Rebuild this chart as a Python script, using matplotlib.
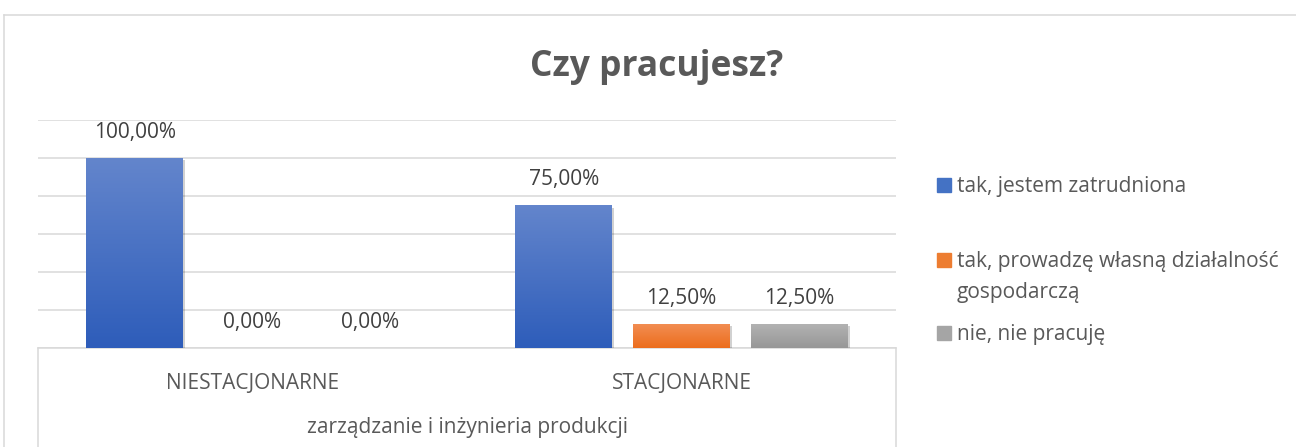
import numpy as np
import matplotlib.pyplot as plt
import matplotlib.patheffects as pe
from matplotlib.colors import LinearSegmentedColormap
from matplotlib.patches import Rectangle
from matplotlib.lines import Line2D

plt.rcParams['font.family'] = ['Open Sans', 'DejaVu Sans']

# data
categories = ['NIESTACJONARNE', 'STACJONARNE']
group_label = 'zarządzanie i inżynieria produkcji'
series_names = ['tak, jestem zatrudniona',
                'tak, prowadzę własną działalność\ngospodarczą',
                'nie, nie pracuję']
zatrudniona = [100.0, 75.0]
dzialalnosc = [0.0, 12.5]
nie_pracuje = [0.0, 12.5]

# (bottom colour, top colour) for the Excel-like gradient
grad_colors = [('#2e5dba', '#6385cc'),
               ('#ec6d1c', '#f28d52'),
               ('#979797', '#b2b2b2')]
mid_colors = ['#4472c4', '#ed7d31', '#a5a5a5']
grid_col = '#d9d9d9'
text_col = '#595959'

fig = plt.figure(figsize=(12.96, 4.47), dpi=100)
ax = fig.add_axes([38 / 1296, 99 / 447, (896 - 38) / 1296, 228 / 447])

x = np.arange(len(categories))
slot = 0.2745
width = 0.226
values = [zatrudniona, dzialalnosc, nie_pracuje]

for i, vals in enumerate(values):
    bars = ax.bar(x + (i - 1) * slot, vals, width, color=mid_colors[i], linewidth=0,
                  zorder=3, label=series_names[i])
    cmap = LinearSegmentedColormap.from_list('g%d' % i, grad_colors[i])
    for b in bars:
        h = b.get_height()
        if h <= 0:
            continue
        b.set_path_effects([pe.SimplePatchShadow(offset=(1.5, -1.5), shadow_rgbFace='#000000', alpha=0.18),
                            pe.Normal()])
        grad = np.linspace(0, 1, 100).reshape(-1, 1)
        ax.imshow(grad, cmap=cmap, origin='lower', aspect='auto', zorder=4,
                  extent=(b.get_x(), b.get_x() + b.get_width(), 0, h))
    labels = [('%.2f' % v).replace('.', ',') + '%' for v in vals]
    ax.bar_label(bars, labels=labels, padding=11, fontsize=15, color='#404040')

ax.set_xlim(-0.5, 1.5)
ax.set_ylim(0, 120)
ax.set_yticks(np.arange(0, 121, 20))
ax.yaxis.grid(True, color=grid_col, linewidth=1.1)
ax.set_axisbelow(True)
ax.tick_params(axis='y', left=False, labelleft=False)
ax.tick_params(axis='x', length=0, pad=18, labelsize=15, labelcolor=text_col)
ax.set_xticks(x)
ax.set_xticklabels(categories)
for s in ['top', 'left', 'right']:
    ax.spines[s].set_visible(False)
ax.spines['bottom'].set_color(grid_col)
ax.spines['bottom'].set_linewidth(1.1)

# category box below the axis
for xx in [0, 1]:
    ax.add_line(Line2D([xx, xx], [0, -0.5], transform=ax.transAxes, color=grid_col,
                       linewidth=1.1, clip_on=False))
ax.text(0.5, -(427 - 348) / 228, group_label, transform=ax.transAxes, ha='center',
        va='center', fontsize=15, color=text_col)

# outer chart border
fig.add_artist(Line2D([4 / 1296, 4 / 1296], [0, 1 - 15 / 447], color=grid_col, linewidth=1.1))
fig.add_artist(Line2D([4 / 1296, 1], [1 - 15 / 447, 1 - 15 / 447], color=grid_col, linewidth=1.1))

fig.text(657 / 1296, 1 - 67 / 447, 'Czy pracujesz?', ha='center', va='center',
         fontsize=25.5, fontweight='bold', color=text_col)

# legend
leg_y = [185, 260, 333]
for i, name in enumerate(series_names):
    yc = 1 - leg_y[i] / 447
    fig.add_artist(Rectangle((937 / 1296, yc - 7 / 447), 14 / 1296, 14 / 447,
                             color=mid_colors[i], transform=fig.transFigure))
    fig.text(957 / 1296, yc + 9 / 447, name, ha='left', va='top', fontsize=15,
             color=text_col, linespacing=1.65)

fig.savefig('out.png', dpi=100)
